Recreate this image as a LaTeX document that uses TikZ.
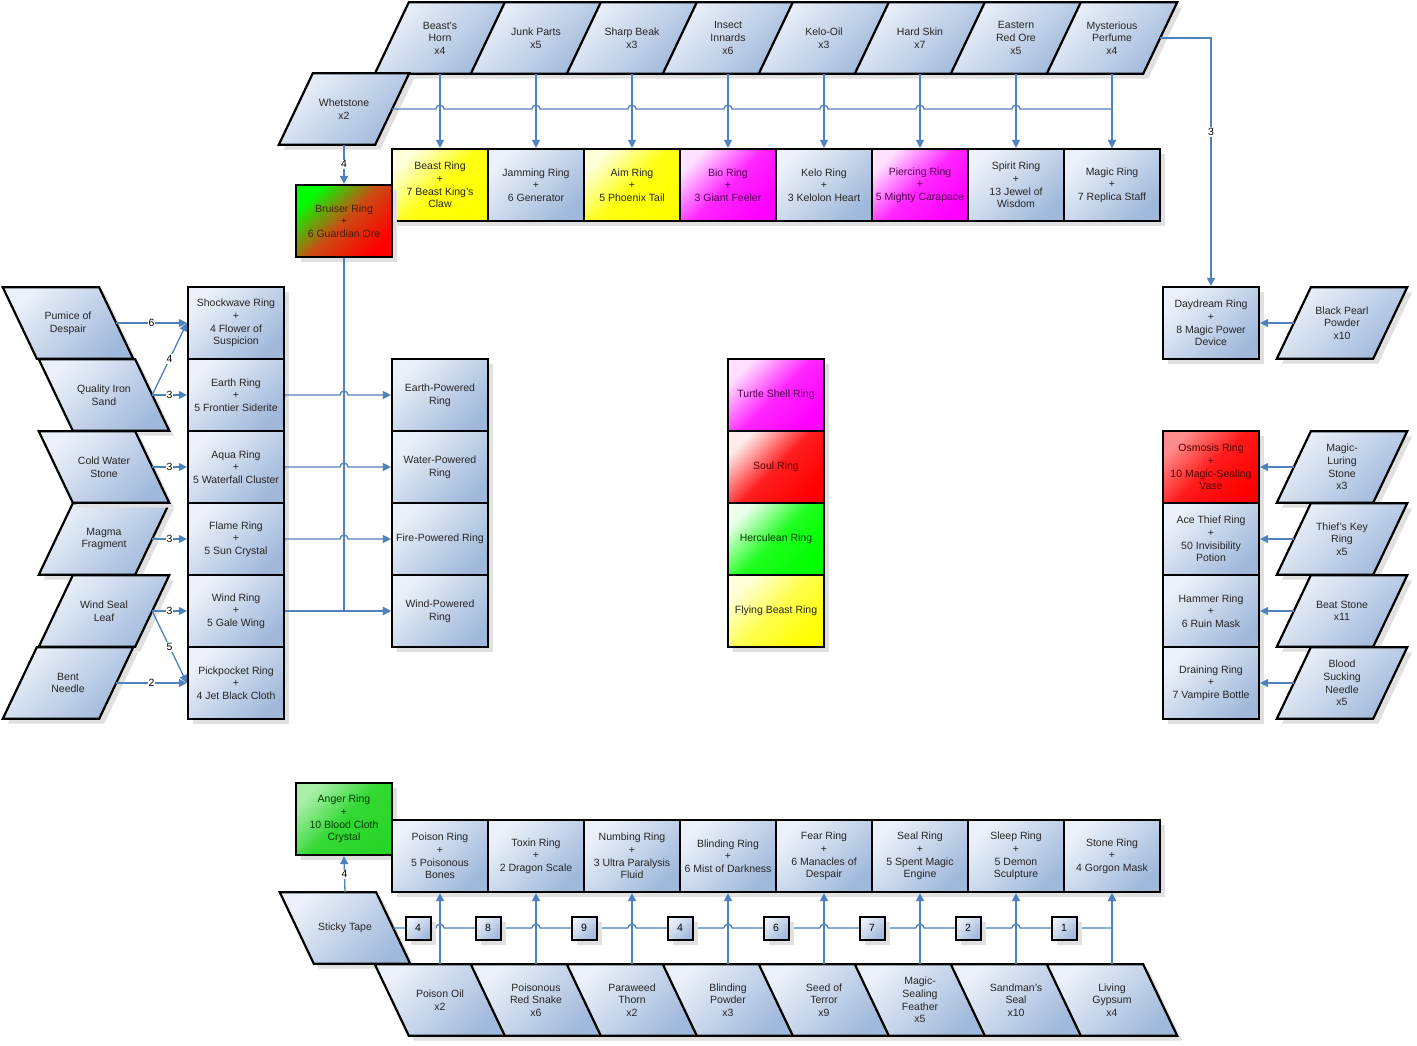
\documentclass[tikz,border=0pt]{standalone}
\usepackage{fontspec}
\setmainfont{Liberation Sans}
\usetikzlibrary{arrows.meta, shadows}
\usepackage{xcolor}
\definecolor{boxlight}{RGB}{236,241,249}
\definecolor{boxdark}{RGB}{160,185,219}
\definecolor{linkblue}{RGB}{79,129,189}
\definecolor{angergreen}{RGB}{40,214,40}
\definecolor{bruisermid}{RGB}{205,75,20}
\definecolor{magtext}{RGB}{85,0,85}
\definecolor{redtext}{RGB}{85,0,0}
\definecolor{grntext}{RGB}{0,60,0}
\definecolor{bruisertext}{RGB}{70,30,5}
\pgfdeclarelayer{paper}
\pgfdeclarelayer{back}
\pgfsetlayers{paper,back,main}

\begin{document}
\begin{tikzpicture}[
  x=1pt, y=-1pt,
  every node/.style={font=\fontsize{10.5}{12.6}\selectfont, align=center},
  boxshadow/.style={drop shadow={shadow xshift=5pt, shadow yshift=-5pt, fill=black!12, opacity=1}},
  ring/.style={draw, line width=2.2pt, minimum width=96pt, minimum height=72pt, inner sep=1pt, text=black!85,
    top color=boxlight, bottom color=boxdark, shading angle=45, boxshadow},
  ingr/.style={minimum width=96pt, minimum height=71pt, inner sep=1pt, text=black!85},
  ingrshape/.style={draw, line width=2.2pt, line join=miter, top color=boxlight, bottom color=boxdark, shading angle=45, boxshadow},
  yel/.style={top color=yellow!15, bottom color=yellow, middle color=yellow!92, shading angle=45},
  mag/.style={top color=magenta!12, bottom color=magenta, middle color=magenta!85, shading angle=45, text=magtext},
  redf/.style={top color=red!8, bottom color=red, middle color=red!88, shading angle=45, text=redtext},
  grn/.style={top color=green!8, bottom color=green, middle color=green!88, shading angle=45, text=grntext},
  link/.style={draw=linkblue, line width=1.3pt, -{Triangle[length=8pt, width=8pt]}},
  lbl/.style={fill=white, inner sep=1pt},
  qbox/.style={draw, line width=2pt, minimum width=25pt, minimum height=23pt, inner sep=0pt,
    top color=boxlight, bottom color=boxdark, shading angle=45, boxshadow}
]
\begin{pgfonlayer}{paper}
\fill[white] (0,0) rectangle (1417,1045);
\end{pgfonlayer}
\useasboundingbox (0,0) rectangle (1417,1045);

% Top ingredients
\node[ingr] (horn)    at (440,38) {Beast's\\Horn\\x4};
\node[ingr] (junk)    at (536,38) {Junk Parts\\x5};
\node[ingr] (beak)    at (632,38) {Sharp Beak\\x3};
\node[ingr] (innards) at (728,38) {Insect\\Innards\\x6};
\node[ingr] (keloil)  at (824,38) {Kelo-Oil\\x3};
\node[ingr] (skin)    at (920,38) {Hard Skin\\x7};
\node[ingr] (redore)  at (1016,38) {Eastern\\Red Ore\\x5};
\node[ingr] (perfume) at (1112,38) {Mysterious\\Perfume\\x4};
\node[ingr] (whet)    at (344,109) {Whetstone\\x2};

% Top rings
\node[ring, yel] (beast)    at (440,185) {Beast Ring\\+\\7 Beast King's\\Claw};
\node[ring]      (jamming)  at (536,185) {Jamming Ring\\+\\6 Generator};
\node[ring, yel] (aim)      at (632,185) {Aim Ring\\+\\5 Phoenix Tail};
\node[ring, mag] (bio)      at (728,185) {Bio Ring\\+\\3 Giant Feeler};
\node[ring]      (kelo)     at (824,185) {Kelo Ring\\+\\3 Kelolon Heart};
\node[ring, mag] (piercing) at (920,185) {Piercing Ring\\+\\5 Mighty Carapace};
\node[ring]      (spirit)   at (1016,185) {Spirit Ring\\+\\13 Jewel of\\Wisdom};
\node[ring]      (magic)    at (1112,185) {Magic Ring\\+\\7 Replica Staff};
\node[ring, top color=green, bottom color=red, middle color=bruisermid, shading angle=45, text=bruisertext]
  (bruiser) at (344,221) {Bruiser Ring\\+\\6 Guardian Ore};

% Left side
\node[ingr] (pumice)    at (68,323)  {Pumice of\\Despair};
\node[ingr] (ironsand)  at (104,395) {Quality Iron\\Sand};
\node[ingr] (coldwater) at (104,467) {Cold Water\\Stone};
\node[ingr] (magma)     at (104,539) {Magma\\Fragment};
\node[ingr] (windleaf)  at (104,611) {Wind Seal\\Leaf};
\node[ingr] (needle)    at (68,683)  {Bent\\Needle};
\node[ring] (shock) at (236,323) {Shockwave Ring\\+\\4 Flower of\\Suspicion};
\node[ring] (earth) at (236,395) {Earth Ring\\+\\5 Frontier Siderite};
\node[ring] (aqua)  at (236,467) {Aqua Ring\\+\\5 Waterfall Cluster};
\node[ring] (flame) at (236,539) {Flame Ring\\+\\5 Sun Crystal};
\node[ring] (wind)  at (236,611) {Wind Ring\\+\\5 Gale Wing};
\node[ring] (pick)  at (236,683) {Pickpocket Ring\\+\\4 Jet Black Cloth};
\node[ring] (earthp) at (440,395) {Earth-Powered\\Ring};
\node[ring] (waterp) at (440,467) {Water-Powered\\Ring};
\node[ring] (firep)  at (440,539) {Fire-Powered Ring};
\node[ring] (windp)  at (440,611) {Wind-Powered\\Ring};

% Middle column
\node[ring, mag]  (turtle) at (776,395) {Turtle Shell Ring};
\node[ring, redf] (soul)   at (776,467) {Soul Ring};
\node[ring, grn]  (hercu)  at (776,539) {Herculean Ring};
\node[ring, yel, middle color=yellow!70] (flying) at (776,611) {Flying Beast Ring};

% Right side
\node[ring] (day) at (1211,323) {Daydream Ring\\+\\8 Magic Power\\Device};
\node[ingr] (pearl) at (1342,323) {Black Pearl\\Powder\\x10};
\node[ring, redf, top color=red!45, bottom color=red, middle color=red!90, shading angle=45]
  (osmosis) at (1211,467) {Osmosis Ring\\+\\10 Magic-Sealing\\Vase};
\node[ring] (ace)    at (1211,539) {Ace Thief Ring\\+\\50 Invisibility\\Potion};
\node[ring] (hammer) at (1211,611) {Hammer Ring\\+\\6 Ruin Mask};
\node[ring] (drain)  at (1211,683) {Draining Ring\\+\\7 Vampire Bottle};
\node[ingr] (luring)      at (1342,467) {Magic-\\Luring\\Stone\\x3};
\node[ingr] (keyring)     at (1342,539) {Thief's Key\\Ring\\x5};
\node[ingr] (beat)        at (1342,611) {Beat Stone\\x11};
\node[ingr] (bloodneedle) at (1342,683) {Blood\\Sucking\\Needle\\x5};

% Bottom rings
\node[ring, top color=angergreen!40, bottom color=angergreen, middle color=angergreen!95, shading angle=45, text=grntext]
  (anger) at (344,819) {Anger Ring\\+\\10 Blood Cloth\\Crystal};
\node[ring] (poison) at (440,856)  {Poison Ring\\+\\5 Poisonous\\Bones};
\node[ring] (toxin)  at (536,856)  {Toxin Ring\\+\\2 Dragon Scale};
\node[ring] (numb)   at (632,856)  {Numbing Ring\\+\\3 Ultra Paralysis\\Fluid};
\node[ring] (blind)  at (728,856)  {Blinding Ring\\+\\6 Mist of Darkness};
\node[ring] (fear)   at (824,856)  {Fear Ring\\+\\6 Manacles of\\Despair};
\node[ring] (seal)   at (920,856)  {Seal Ring\\+\\5 Spent Magic\\Engine};
\node[ring] (sleep)  at (1016,856) {Sleep Ring\\+\\5 Demon\\Sculpture};
\node[ring] (stone)  at (1112,856) {Stone Ring\\+\\4 Gorgon Mask};

% Bottom ingredients
\node[ingr] (sticky)   at (345,928)   {Sticky Tape};
\node[ingr] (oil)      at (440,1000)  {Poison Oil\\x2};
\node[ingr] (snake)    at (536,1000)  {Poisonous\\Red Snake\\x6};
\node[ingr] (paraweed) at (632,1000)  {Paraweed\\Thorn\\x2};
\node[ingr] (powder)   at (728,1000)  {Blinding\\Powder\\x3};
\node[ingr] (seed)     at (824,1000)  {Seed of\\Terror\\x9};
\node[ingr] (feather)  at (920,1000)  {Magic-\\Sealing\\Feather\\x5};
\node[ingr] (sandman)  at (1016,1000) {Sandman's\\Seal\\x10};
\node[ingr] (gypsum)   at (1112,1000) {Living\\Gypsum\\x4};

% Parallelogram outlines behind the ingredient texts (/ and \ leaning)
\begin{pgfonlayer}{back}
\foreach \n in {horn, junk, beak, innards, keloil, skin, redore, perfume, whet, magma, windleaf, needle, pearl, luring, keyring, beat, bloodneedle}
  \draw[ingrshape] ([xshift=-17pt]\n.south west) -- ([xshift=-17pt]\n.south east) -- ([xshift=17pt]\n.north east) -- ([xshift=17pt]\n.north west) -- cycle;
\foreach \n in {pumice, ironsand, coldwater, sticky, oil, snake, paraweed, powder, seed, feather, sandman, gypsum}
  \draw[ingrshape] ([xshift=17pt]\n.south west) -- ([xshift=17pt]\n.south east) -- ([xshift=-17pt]\n.north east) -- ([xshift=-17pt]\n.north west) -- cycle;
\end{pgfonlayer}

% Top connectors
\foreach \a/\b in {horn/beast, junk/jamming, beak/aim, innards/bio, keloil/kelo, skin/piercing, redore/spirit, perfume/magic}
  \draw[link] (\a.south) -- (\b.north);
\draw[link] (whet.east) \foreach \x in {440,536,...,1016} {-- (\x-4,109) arc[start angle=180, end angle=0, radius=4pt]} -| (magic.north);
\draw[link] (whet.south) -- node[lbl]{4} (bruiser.north);
\draw[link] (perfume.east) -| node[lbl, pos=0.69]{3} (day.north);

% Left connectors
\draw[link] (pumice.east) -- node[lbl]{6} (shock.west);
\draw[link] (ironsand.east) -- node[lbl]{4} (shock.west);
\draw[link] (ironsand.east) -- node[lbl]{3} (earth.west);
\draw[link] (coldwater.east) -- node[lbl]{3} (aqua.west);
\draw[link] (magma.east) -- node[lbl]{3} (flame.west);
\draw[link] (windleaf.east) -- node[lbl]{3} (wind.west);
\draw[link] (windleaf.east) -- node[lbl]{5} (pick.west);
\draw[link] (needle.east) -- node[lbl]{2} (pick.west);
\foreach \a/\b/\y in {earth/earthp/395, aqua/waterp/467, flame/firep/539}
  \draw[link] (\a.east) -- (340,\y) arc[start angle=180, end angle=0, radius=4pt] -- (\b.west);
\draw[link] (wind.east) -- (windp.west);
\draw[link] (bruiser.south) |- (windp.west);

% Right connectors
\foreach \a/\b in {pearl/day, luring/osmosis, keyring/ace, beat/hammer, bloodneedle/drain}
  \draw[link] (\a.west) -- (\b.east);

% Bottom connectors
\foreach \a/\b in {oil/poison, snake/toxin, paraweed/numb, powder/blind, seed/fear, feather/seal, sandman/sleep, gypsum/stone}
  \draw[link] (\a.north) -- (\b.south);
\draw[link] (sticky.north) -- node[lbl]{4} (anger.south);
\draw[link] (sticky.east) \foreach \x in {440,536,...,1016} {-- (\x-4,928) arc[start angle=180, end angle=0, radius=4pt]} -| (stone.south);
\foreach \x/\q [count=\i] in {418/4, 488/8, 584/9, 680/4, 776/6, 872/7, 968/2, 1064/1}
  \node[qbox] (q\i) at (\x,928) {\q};
\end{tikzpicture}
\end{document}
